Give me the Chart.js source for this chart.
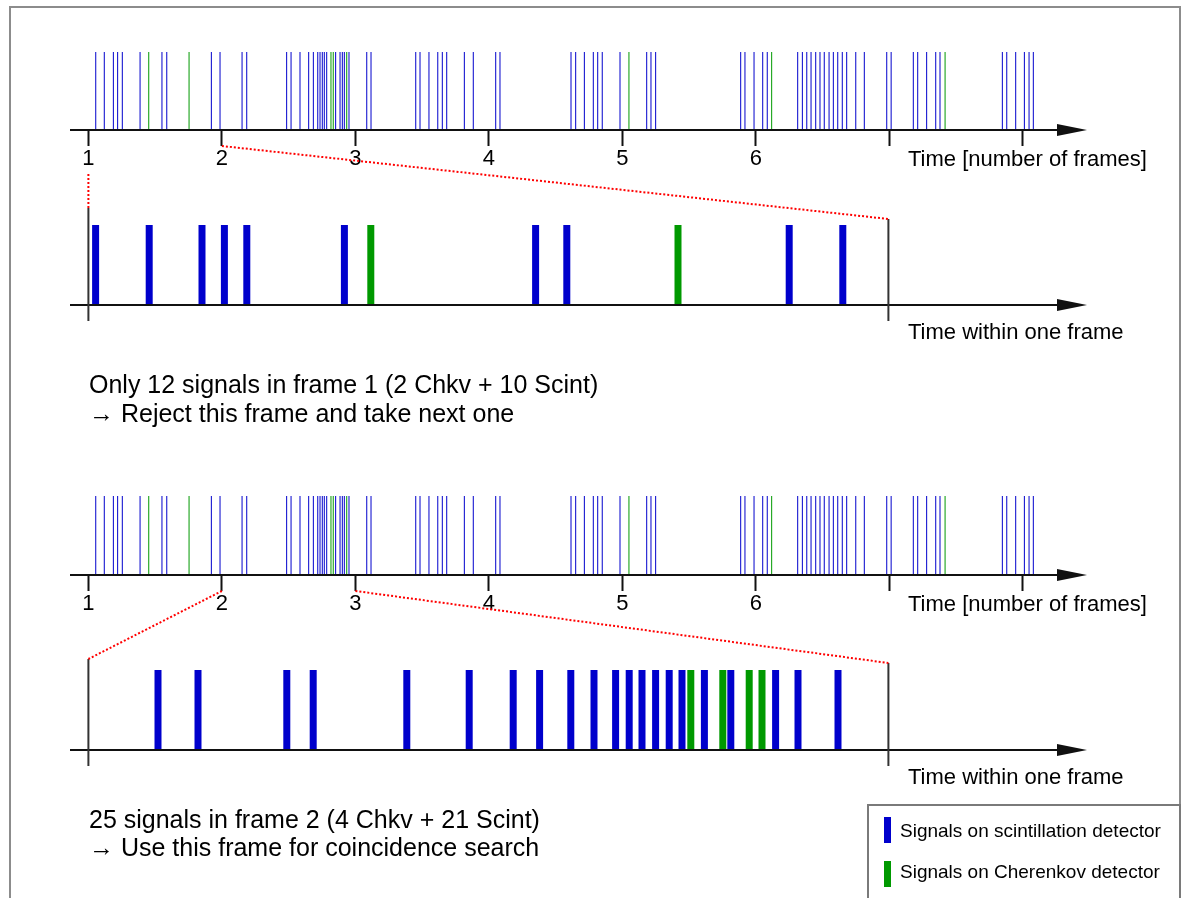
<!DOCTYPE html>
<html>
<head>
<meta charset="utf-8">
<script src="https://cdn.jsdelivr.net/npm/chart.js@4.4.1/dist/chart.umd.min.js"></script>
<style>
html, body { margin: 0; padding: 0; background: #fff; }
body { width: 1181px; height: 898px; position: relative; overflow: hidden;
       font-family: "Liberation Sans", Arial, sans-serif; color: #000; }
canvas { position: absolute; left: 0; top: 0; }
.frame { position: absolute; left: 9px; top: 6px; width: 1168px; height: 920px; border: 2px solid #8c8c8c; }
.txt { position: absolute; white-space: nowrap; }
.axlab { font-size: 22px; line-height: 26px; left: 908px; }
.para { font-size: 25px; left: 89px; }
.legend { position: absolute; left: 867px; top: 804px; width: 314px; height: 130px;
          box-sizing: border-box; border: 2px solid #7a7a7a; background: #fff; }
.sw { position: absolute; width: 7px; height: 26px; }
.legtxt { font-size: 19px; line-height: 41px; }
</style>
</head>
<body>
<div class="frame"></div>
<canvas id="tl1" width="1181" height="898"></canvas>
<canvas id="fr1" width="1181" height="898"></canvas>
<canvas id="tl2" width="1181" height="898"></canvas>
<canvas id="fr2" width="1181" height="898"></canvas>

<div class="txt axlab" style="top:146px">Time [number of frames]</div>
<div class="txt axlab" style="top:319px">Time within one frame</div>
<div class="txt axlab" style="top:591px">Time [number of frames]</div>
<div class="txt axlab" style="top:764px">Time within one frame</div>
<div class="txt para" id="p1" style="top:370px;line-height:29px"></div>
<div class="txt para" id="p2" style="top:805px;line-height:28px"></div>
<div class="legend" id="legend"></div>

<script>
// signal times on the long axis, in frames
const scintTimes = [
  1.055, 1.119, 1.187, 1.219, 1.254, 1.387, 1.551, 1.587, 1.921, 1.986,
  2.151, 2.186, 2.485, 2.518, 2.585, 2.650, 2.685, 2.718, 2.735, 2.752, 2.767, 2.785,
  2.852, 2.885, 2.902, 2.917, 2.952,
  3.085, 3.117, 3.452, 3.484, 3.551, 3.617, 3.651, 3.684, 3.816, 3.883,
  4.051, 4.083, 4.615, 4.650, 4.715, 4.782, 4.815, 4.849, 4.982,
  5.182, 5.214, 5.249, 5.886, 5.918, 5.986,
  6.051, 6.085, 6.313, 6.348, 6.381, 6.413, 6.448, 6.480, 6.512, 6.548, 6.580,
  6.613, 6.647, 6.680, 6.748, 6.812, 6.980,
  7.013, 7.179, 7.212, 7.279, 7.347, 7.379, 7.846, 7.879, 7.946,
  8.011, 8.046, 8.078
];
const chkvTimes = [1.452, 1.754, 2.817, 2.834, 2.935, 5.049, 6.118, 7.417];

// signals inside one frame (0 = frame start, 1 = frame end)
const frame1Scint = [0.009, 0.076, 0.142, 0.170, 0.198, 0.320, 0.559, 0.598, 0.876, 0.943];
const frame1Chkv = [0.353, 0.737];
const frame2Scint = [0.087, 0.137, 0.248, 0.281, 0.398, 0.476, 0.531, 0.564, 0.603, 0.632,
                     0.659, 0.676, 0.692, 0.709, 0.726, 0.742, 0.770, 0.803, 0.859, 0.887, 0.937];
const frame2Chkv = [0.753, 0.793, 0.826, 0.842];

const frameTicks = [1, 2, 3, 4, 5, 6, 7, 8];
const frameTickLabels = ['1', '2', '3', '4', '5', '6', '', ''];
const seriesNames = ['Signals on scintillation detector', 'Signals on Cherenkov detector'];

const BLUE = '#0000cc', GREEN = '#009900';
const W = 1181, H = 898, AX_LEFT = 70, AX_RIGHT = 1087;
const charts = {};

function line(ctx, x1, y1, x2, y2) {
  ctx.beginPath(); ctx.moveTo(x1, y1); ctx.lineTo(x2, y2); ctx.stroke();
}

const deco = {
  id: 'deco',
  afterDatasetsDraw(chart, args, o) {
    const ctx = chart.ctx, a = chart.chartArea, x = chart.scales.x;
    const y0 = a.bottom;
    ctx.save();
    ctx.strokeStyle = '#111'; ctx.fillStyle = '#111'; ctx.lineWidth = 2;
    line(ctx, a.left, y0, a.right - 28, y0);
    ctx.beginPath();
    ctx.moveTo(a.right, y0); ctx.lineTo(a.right - 30, y0 - 6); ctx.lineTo(a.right - 30, y0 + 6);
    ctx.closePath(); ctx.fill();
    if (o.bounds) {
      const xl = x.getPixelForValue(0), xr = x.getPixelForValue(1);
      ctx.strokeStyle = '#333';
      line(ctx, xl, y0 - o.bounds[0], xl, y0 + 16);
      line(ctx, xr, y0 - o.bounds[1], xr, y0 + 16);
      const src = charts[o.src];
      const sx = src.scales.x, sy = src.chartArea.bottom;
      ctx.strokeStyle = '#ff0000'; ctx.setLineDash([2, 2]);
      line(ctx, sx.getPixelForValue(o.from[0]), sy + o.dy[0], xl, y0 - o.bounds[0]);
      line(ctx, sx.getPixelForValue(o.from[1]), sy + o.dy[1], xr, y0 - o.bounds[1]);
    }
    ctx.restore();
  }
};

function bars(values, color, thick) {
  return { data: values.map(v => ({ x: v, y: 1 })), backgroundColor: color,
           barThickness: thick, grouped: false, inflateAmount: 0 };
}

function timeline(id, top, axisY) {
  return new Chart(document.getElementById(id), {
    type: 'bar',
    data: { datasets: [bars(scintTimes, BLUE, 1), bars(chkvTimes, GREEN, 1)] },
    options: {
      responsive: false, animation: false, events: [],
      layout: { padding: { left: AX_LEFT, right: W - AX_RIGHT, top: top, bottom: H - axisY - 40 } },
      plugins: { legend: { display: false }, tooltip: { enabled: false } },
      scales: {
        x: {
          type: 'linear', min: 0.8622, max: 8.4801, offset: false,
          afterBuildTicks: s => { s.ticks = frameTicks.map(v => ({ value: v })); },
          afterFit: s => { s.height = 40; },
          border: { display: false },
          grid: { offset: false, drawOnChartArea: false, drawTicks: true, tickLength: 16,
                  tickWidth: 2, tickColor: '#111' },
          ticks: { autoSkip: false, maxRotation: 0, padding: 0, color: '#000',
                   font: { family: 'Liberation Sans', size: 22 },
                   callback: (v, i) => frameTickLabels[i] }
        },
        y: { display: false, min: 0, max: 1 }
      }
    },
    plugins: [deco]
  });
}

function panel(id, top, axisY, scint, chkv, link) {
  return new Chart(document.getElementById(id), {
    type: 'bar',
    data: { datasets: [bars(scint, BLUE, 7), bars(chkv, GREEN, 7)] },
    options: {
      responsive: false, animation: false, events: [],
      layout: { padding: { left: AX_LEFT, right: W - AX_RIGHT, top: top, bottom: H - axisY } },
      plugins: { legend: { display: false }, tooltip: { enabled: false }, deco: link },
      scales: {
        x: { type: 'linear', display: false, min: -0.023, max: 1.24825, offset: false },
        y: { display: false, min: 0, max: 1 }
      }
    },
    plugins: [deco]
  });
}

charts.tl1 = timeline('tl1', 52, 130);
charts.fr1 = panel('fr1', 225, 305, frame1Scint, frame1Chkv,
  { bounds: [97, 86], src: 'tl1', from: [1, 2], dy: [44, 16] });
charts.tl2 = timeline('tl2', 496, 575);
charts.fr2 = panel('fr2', 670, 750, frame2Scint, frame2Chkv,
  { bounds: [91, 87], src: 'tl2', from: [2, 3], dy: [16, 16] });

document.getElementById('p1').innerHTML =
  'Only ' + (frame1Scint.length + frame1Chkv.length) + ' signals in frame 1 (' +
  frame1Chkv.length + ' Chkv + ' + frame1Scint.length + ' Scint)<br>\u2192 Reject this frame and take next one';
document.getElementById('p2').innerHTML =
  (frame2Scint.length + frame2Chkv.length) + ' signals in frame 2 (' +
  frame2Chkv.length + ' Chkv + ' + frame2Scint.length + ' Scint)<br>\u2192 Use this frame for coincidence search';

const leg = document.getElementById('legend');
[BLUE, GREEN].forEach((c, i) => {
  const sw = document.createElement('div');
  sw.className = 'sw';
  sw.style.cssText = 'left:15px;top:' + (11 + i * 44) + 'px;background:' + c;
  leg.appendChild(sw);
  const t = document.createElement('div');
  t.className = 'txt legtxt';
  t.style.cssText = 'left:31px;top:' + (4 + i * 41) + 'px';
  t.textContent = seriesNames[i];
  leg.appendChild(t);
});
</script>
</body>
</html>
